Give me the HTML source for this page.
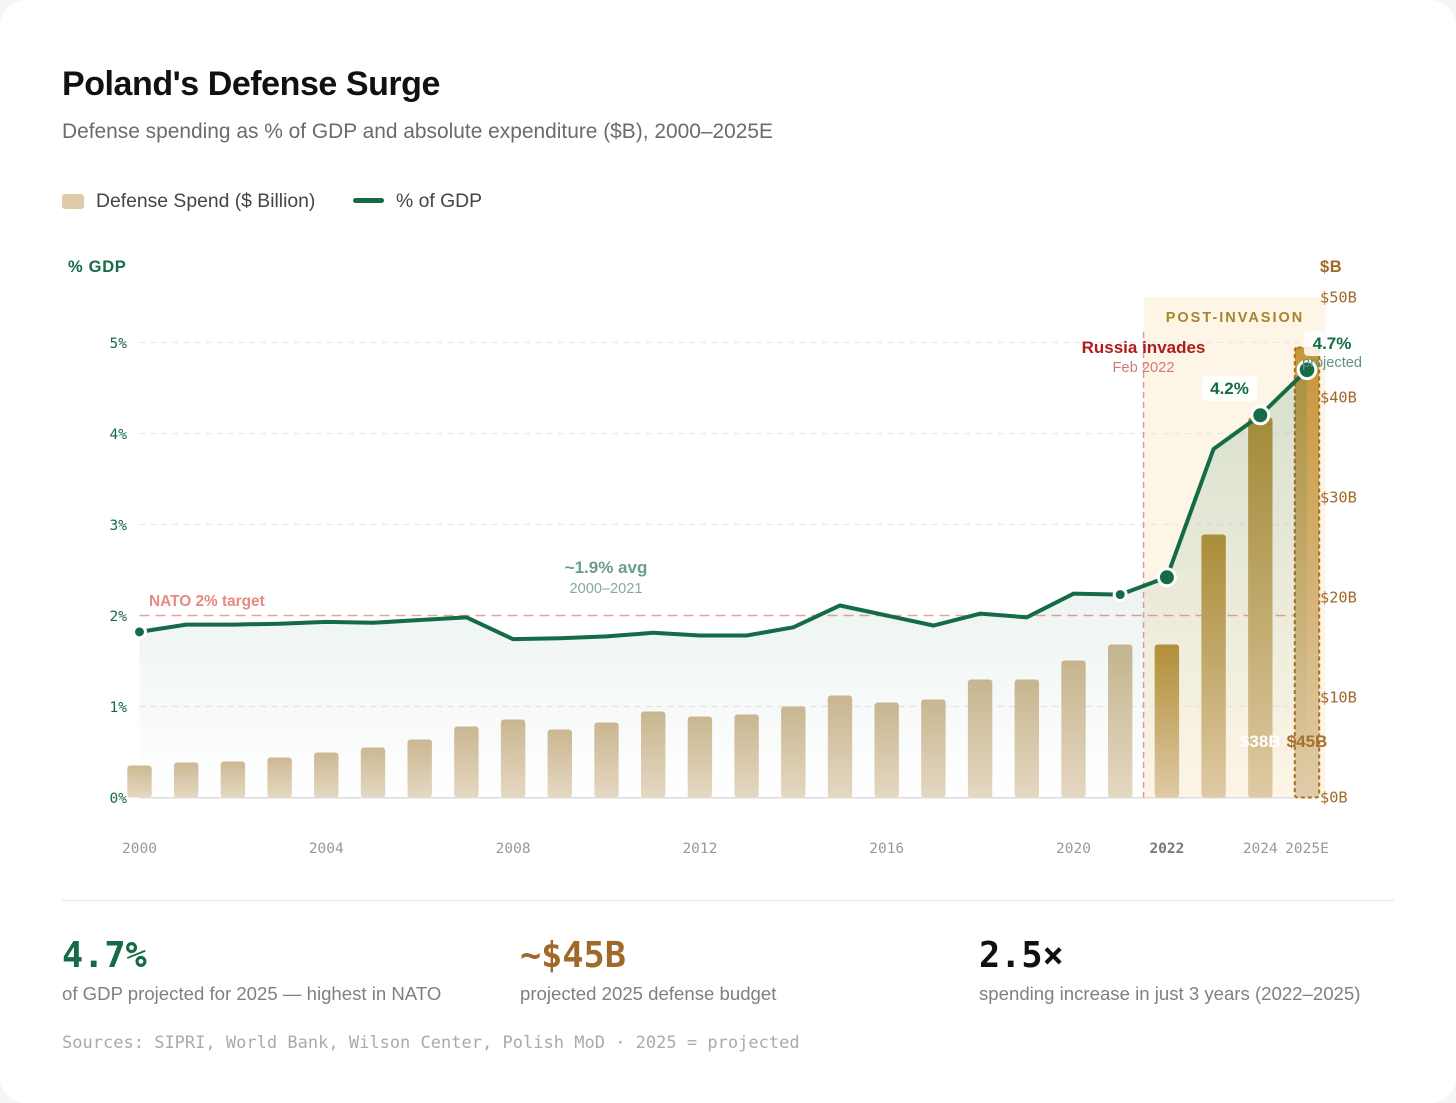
<!DOCTYPE html>
<html lang="en">
<head>
<meta charset="utf-8">
<title>Poland's Defense Surge</title>
<style>
html,body{margin:0;padding:0;width:1456px;height:1103px;overflow:hidden;background:#f5f5f3;}
#card{position:absolute;left:0;top:0;width:1456px;height:1103px;background:#fff;border-radius:26px;overflow:hidden;font-family:"Liberation Sans",sans-serif;}
.abs{position:absolute;white-space:nowrap;line-height:1;}
svg{position:absolute;left:0;top:0;}
</style>
</head>
<body>
<div id="card">
  <div class="abs" style="left:62px;top:67px;font-size:34px;font-weight:700;letter-spacing:-.45px;color:#111;">Poland's Defense Surge</div>
  <div class="abs" style="left:62px;top:122px;font-size:20.92px;color:#6b6b6b;">Defense spending as % of GDP and absolute expenditure ($B), 2000–2025E</div>

  <div class="abs" style="left:62px;top:194px;width:22px;height:15px;border-radius:3px;background:#dfcbaa;"></div>
  <div class="abs" style="left:96px;top:192px;font-size:19.35px;color:#444;">Defense Spend ($ Billion)</div>
  <div class="abs" style="left:353px;top:198px;width:31px;height:5px;border-radius:3px;background:#146b45;"></div>
  <div class="abs" style="left:396px;top:192px;font-size:19.35px;color:#444;">% of GDP</div>

  <svg id="chart" width="1456" height="880" viewBox="0 0 1456 880" xmlns="http://www.w3.org/2000/svg"></svg>

  <div class="abs" style="left:62px;top:900px;width:1332px;height:1px;background:#e6e6e6;"></div>

  <div class="abs" style="left:62px;top:935px;font:700 35.2px 'DejaVu Sans Mono',monospace;color:#146b45;">4.7%</div>
  <div class="abs" style="left:62px;top:985px;font-size:18.6px;color:#808080;">of GDP projected for 2025 — highest in NATO</div>
  <div class="abs" style="left:520px;top:935px;font:700 35.2px 'DejaVu Sans Mono',monospace;color:#a0682a;">~$45B</div>
  <div class="abs" style="left:520px;top:985px;font-size:18.6px;color:#808080;">projected 2025 defense budget</div>
  <div class="abs" style="left:979px;top:935px;font:700 35.2px 'DejaVu Sans Mono',monospace;color:#111;">2.5×</div>
  <div class="abs" style="left:979px;top:985px;font-size:18.6px;color:#808080;">spending increase in just 3 years (2022–2025)</div>

  <div class="abs" style="left:62px;top:1033px;font:17.02px 'DejaVu Sans Mono',monospace;color:#aaa;">Sources: SIPRI, World Bank, Wilson Center, Polish MoD · 2025 = projected</div>
</div>

<script>
const years = [2000,2001,2002,2003,2004,2005,2006,2007,2008,2009,2010,2011,2012,2013,2014,2015,2016,2017,2018,2019,2020,2021,2022,2023,2024,2025];
const spendBillions = [3.2,3.5,3.6,4.0,4.5,5.0,5.8,7.1,7.8,6.8,7.5,8.6,8.1,8.3,9.1,10.2,9.5,9.8,11.8,11.8,13.7,15.3,15.3,26.3,38,45];
const gdpPercent = [1.82,1.90,1.90,1.91,1.93,1.92,1.95,1.98,1.74,1.75,1.77,1.81,1.78,1.78,1.87,2.11,2.00,1.89,2.02,1.98,2.24,2.23,2.42,3.83,4.2,4.7];
const pctTicks = [0,1,2,3,4,5];
const usdTicks = [0,10,20,30,40,50];
const xTickYears = [2000,2004,2008,2012,2016,2020,2022,2024,2025];
const natoTarget = 2;
const invasionYear = 2021.5;
const postInvasionStartYears = [2022,2023,2024,2025];

const NS = 'http://www.w3.org/2000/svg';
const svg = document.getElementById('chart');
const xOf = function(y){ return 139.5 + (y - 2000) * 46.7; };
const yPct = function(p){ return 797.5 - p * 91; };
const yUsd = function(v){ return 797.5 - v * 10; };

function make(tag, attrs, parent, text){
  const el = document.createElementNS(NS, tag);
  for (const k in attrs) el.setAttribute(k, attrs[k]);
  if (text !== undefined) el.textContent = text;
  (parent || svg).appendChild(el);
  return el;
}
const MONO = '"DejaVu Sans Mono",monospace';
const SANS = '"Liberation Sans",sans-serif';
const GREEN = '#146b45';
let el;

const defs = make('defs', {});
const g1 = make('linearGradient', {id:'barPlain',x1:0,y1:0,x2:0,y2:1}, defs);
make('stop',{offset:0,'stop-color':'#cfb993'},g1);
make('stop',{offset:1,'stop-color':'#e5d8c2'},g1);
const g2 = make('linearGradient', {id:'barGold',x1:0,y1:0,x2:0,y2:1}, defs);
make('stop',{offset:0,'stop-color':'#bb9138'},g2);
make('stop',{offset:1,'stop-color':'#dfcaa5'},g2);
const g3 = make('linearGradient', {id:'barProj',x1:0,y1:0,x2:0,y2:1}, defs);
make('stop',{offset:0,'stop-color':'#c8963a'},g3);
make('stop',{offset:1,'stop-color':'#e0cca9'},g3);
const g4 = make('linearGradient', {id:'areaFill',x1:0,y1:0,x2:0,y2:1}, defs);
make('stop',{offset:0,'stop-color':'#0f6b47','stop-opacity':.16},g4);
make('stop',{offset:1,'stop-color':'#0f6b47','stop-opacity':0},g4);

// post-invasion band
el = make('rect',{x:xOf(invasionYear),y:yUsd(50),width:182,height:500,fill:'#fdf5e6'});


el = make('text',{x:1235,y:322,'text-anchor':'middle','font-family':SANS,'font-size':14.5,'font-weight':700,'letter-spacing':2,fill:'#a9842f'},svg,'POST-INVASION');



// grid lines and left axis
pctTicks.forEach(function(p){
  if (p > 0 && p !== natoTarget) {
    const line = make('line',{x1:xOf(2000),x2:xOf(2025),y1:yPct(p),y2:yPct(p),stroke:'#e8e8e8','stroke-width':1.3,'stroke-dasharray':'6 5'});
    
    
  }
  const t = make('text',{x:127,y:yPct(p)+5.7,'text-anchor':'end','font-family':MONO,'font-size':14.5,fill:GREEN},svg,p+'%');
  
  
});

// right axis
usdTicks.forEach(function(v){
  const t = make('text',{x:1320,y:yUsd(v)+5,'font-family':MONO,'font-size':15.3,fill:'#a0682a'},svg,'$'+v+'B');
  
  
});

el = make('text',{x:68,y:272,'font-family':SANS,'font-size':16.5,'letter-spacing':.7,'font-weight':700,fill:GREEN},svg,'% GDP');


el = make('text',{x:1320,y:272,'font-family':SANS,'font-size':16.5,'letter-spacing':.6,'font-weight':700,fill:'#a0682a'},svg,'$B');



// NATO target
el = make('line',{x1:xOf(2000),x2:xOf(2025),y1:yPct(natoTarget),y2:yPct(natoTarget),stroke:'#e9a49c','stroke-width':1.5,'stroke-dasharray':'10 6'});


el = make('text',{x:149,y:606,'font-family':SANS,'font-size':15.4,'font-weight':700,fill:'#e98a82'},svg,'NATO 2% target');



// baseline
el = make('line',{x1:xOf(2000),x2:xOf(2025),y1:yPct(0)+.3,y2:yPct(0)+.3,stroke:'#dcdcdc','stroke-width':1.5});



// bars
years.forEach(function(yr, i){
  const top = yUsd(spendBillions[i]);
  const h = yUsd(0) - top;
  const x = xOf(yr) - 12.2;
  const isProj = yr === 2025;
  const isPost = postInvasionStartYears.indexOf(yr) >= 0;
  const attrs = {x:x,y:top,width:24.4,height:h,rx:3,fill:isProj?'url(#barProj)':(isPost?'url(#barGold)':'url(#barPlain)')};
  if (isProj) { attrs.stroke = '#a86f22'; attrs['stroke-width'] = 2; attrs['stroke-dasharray'] = '4 3'; }
  const bar = make('rect',attrs);
  
  
});

// area + line
const pts = years.map(function(yr,i){ return xOf(yr)+','+yPct(gdpPercent[i]); });
el = make('polygon',{points:xOf(2000)+','+yPct(0)+' '+pts.join(' ')+' '+xOf(2025)+','+yPct(0),fill:'url(#areaFill)'});



// invasion marker
el = make('line',{x1:xOf(invasionYear),x2:xOf(invasionYear),y1:332,y2:yPct(0),stroke:'#d99a9a','stroke-width':1.5,'stroke-dasharray':'6 4'});



el = make('polyline',{points:pts.join(' '),fill:'none',stroke:GREEN,'stroke-width':4,'stroke-linejoin':'round','stroke-linecap':'round'});



// annotations drawn under the markers
el = make('text',{x:1143.5,y:353,'text-anchor':'middle','font-family':SANS,'font-size':17,'font-weight':700,fill:'#b01c1c'},svg,'Russia invades');


el = make('text',{x:1143.5,y:372,'text-anchor':'middle','font-family':SANS,'font-size':14.7,fill:'#d27a7a'},svg,'Feb 2022');


el = make('text',{x:606,y:573,'text-anchor':'middle','font-family':SANS,'font-size':17,'font-weight':700,fill:'#6c9d87'},svg,'~1.9% avg');


el = make('text',{x:606,y:593,'text-anchor':'middle','font-family':SANS,'font-size':14.6,fill:'#84ac99'},svg,'2000–2021');



el = make('rect',{x:1202,y:376,width:55,height:25,rx:4,fill:'#fff','fill-opacity':.92});


el = make('text',{x:1229.5,y:394,'text-anchor':'middle','font-family':SANS,'font-size':17,'font-weight':700,fill:GREEN},svg,gdpPercent[years.indexOf(2024)].toFixed(1)+'%');


el = make('rect',{x:1304,y:331,width:56,height:25,rx:4,fill:'#fff','fill-opacity':.85});


el = make('text',{x:1332,y:349,'text-anchor':'middle','font-family':SANS,'font-size':17,'font-weight':700,fill:GREEN},svg,gdpPercent[years.indexOf(2025)].toFixed(1)+'%');



// markers
function dot(yr, r, sw){
  const i = years.indexOf(yr);
  const c = make('circle',{cx:xOf(yr),cy:yPct(gdpPercent[i]),r:r,fill:GREEN,stroke:'#fff','stroke-width':sw});
  
  
}
dot(2000,6,3);
dot(2021,6,3);
dot(2022,8.5,3);
dot(2024,8.5,3);
dot(2025,8.8,3);

// drawn above the markers so the first letters overlap the 2025 point
el = make('text',{x:1332,y:367,'text-anchor':'middle','font-family':SANS,'font-size':14.6,fill:'#5f9580'},svg,'projected');



el = make('text',{x:xOf(2024),y:747,'text-anchor':'middle','font-family':SANS,'font-size':17,'font-weight':700,fill:'#fff'},svg,'$'+spendBillions[years.indexOf(2024)]+'B');


el = make('text',{x:xOf(2025),y:747,'text-anchor':'middle','font-family':SANS,'font-size':17,'font-weight':700,fill:'#a8702e'},svg,'$'+spendBillions[years.indexOf(2025)]+'B');



// x ticks
xTickYears.forEach(function(yr){
  const bold = yr === 2022;
  const label = yr === 2025 ? '2025E' : String(yr);
  const t = make('text',{x:xOf(yr),y:853,'text-anchor':'middle','font-family':MONO,'font-size':14.5,'font-weight':bold?700:400,fill:bold?'#777':'#999'},svg,label);
  
  
});
</script>
</body>
</html>
